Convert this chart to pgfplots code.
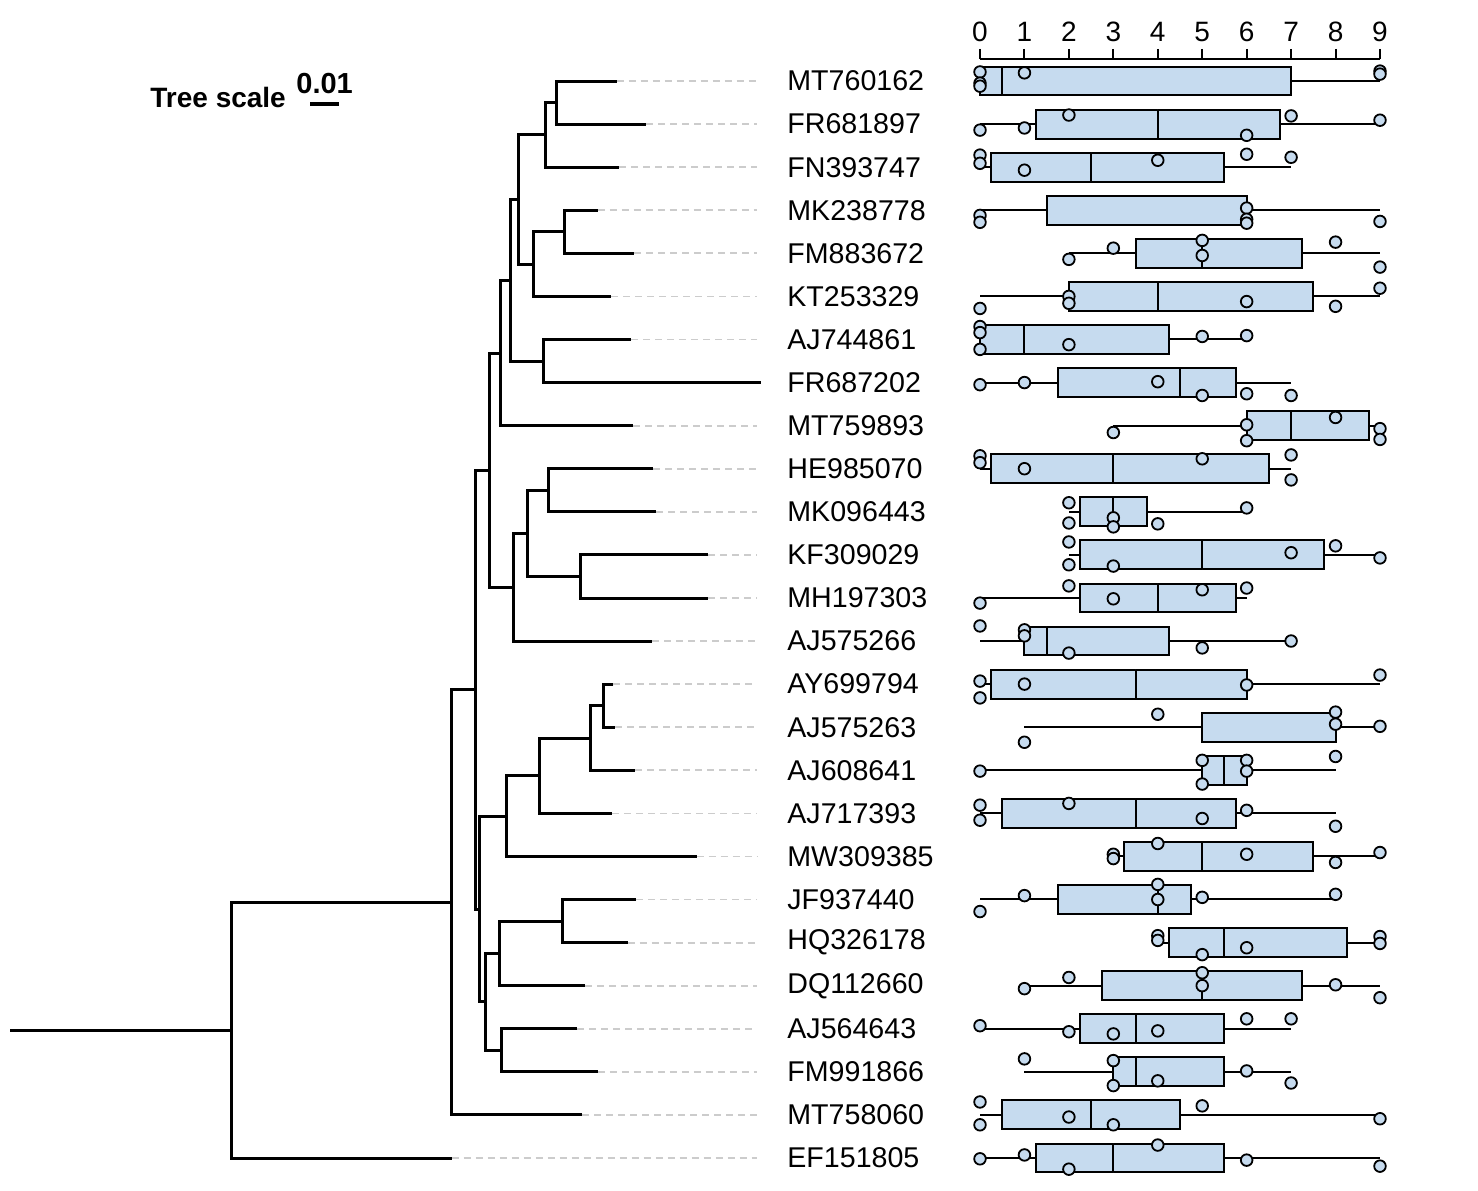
\documentclass[border=0pt]{standalone}
\usepackage{pgfplots}
\pgfplotsset{compat=1.18}
\usepgfplotslibrary{statistics}
\usepackage{fontspec}
\setmainfont{Liberation Sans}
\definecolor{boxblue}{HTML}{C6DBEF}
\definecolor{dashgray}{HTML}{CCCCCC}
\tikzset{lbl/.style={anchor=west, inner sep=0pt, font=\fontsize{14.3pt}{16pt}\selectfont}}
\pgfplotsset{bx/.style={draw=black, fill=boxblue, line width=1pt, solid}}
\begin{document}
\begin{tikzpicture}
\useasboundingbox (0,0) rectangle (739pt,595pt);
\begin{axis}[at={(0,0)}, anchor=south west, width=739pt, height=595pt, scale only axis,
  xmin=0, xmax=1478, ymin=0, ymax=1190, y dir=reverse, hide axis, clip=false, unbounded coords=jump]
% dashed leader lines
\addplot[dashgray, line width=0.9pt, dash pattern=on 3.5pt off 2.5pt] coordinates {
(616.7,81.0)(757,81.0)(nan,nan)
(646,124.1)(757,124.1)(nan,nan)
(619,167.2)(757,167.2)(nan,nan)
(597.7,210.2)(757,210.2)(nan,nan)
(634.3,253.3)(757,253.3)(nan,nan)
(611,296.4)(757,296.4)(nan,nan)
(631,339.5)(757,339.5)(nan,nan)
(633.3,425.6)(757,425.6)(nan,nan)
(653.3,468.7)(757,468.7)(nan,nan)
(656,511.8)(757,511.8)(nan,nan)
(708.3,554.9)(757,554.9)(nan,nan)
(708.3,598.0)(757,598.0)(nan,nan)
(652.3,641.0)(757,641.0)(nan,nan)
(613.3,684.1)(757,684.1)(nan,nan)
(615,727.2)(757,727.2)(nan,nan)
(635,770.3)(757,770.3)(nan,nan)
(612.3,813.4)(757,813.4)(nan,nan)
(696.7,856.4)(757,856.4)(nan,nan)
(636,899.5)(757,899.5)(nan,nan)
(627.7,942.6)(757,942.6)(nan,nan)
(585,985.7)(757,985.7)(nan,nan)
(577.3,1028.8)(757,1028.8)(nan,nan)
(597.7,1071.8)(757,1071.8)(nan,nan)
(582.3,1114.9)(757,1114.9)(nan,nan)
(451.7,1158.0)(757,1158.0)
};
% tree
\addplot[black, line width=1.5pt, line join=miter] coordinates {
(616.7,81)(556.7,81)(556.7,124.1)(646,124.1)(nan,nan)
(556.7,102.6)(545,102.6)(545,167.2)(619,167.2)(nan,nan)
(597.7,210.2)(564.3,210.2)(564.3,253.3)(634.3,253.3)(nan,nan)
(564.3,231.8)(533.3,231.8)(533.3,296.4)(611,296.4)(nan,nan)
(545,134.9)(518.3,134.9)(518.3,264.1)(533.3,264.1)(nan,nan)
(631,339.5)(543.3,339.5)(543.3,382.6)(760.7,382.6)(nan,nan)
(518.3,199.5)(510,199.5)(510,361)(543.3,361)(nan,nan)
(510,280.3)(500,280.3)(500,425.6)(633.3,425.6)(nan,nan)
(653.3,468.7)(548.3,468.7)(548.3,511.8)(656,511.8)(nan,nan)
(708.3,554.9)(580,554.9)(580,598)(708.3,598)(nan,nan)
(548.3,490.2)(527.7,490.2)(527.7,576.4)(580,576.4)(nan,nan)
(527.7,533.3)(513.3,533.3)(513.3,641)(652.3,641)(nan,nan)
(500,353)(489.3,353)(489.3,587.2)(513.3,587.2)(nan,nan)
(613.3,684.1)(603.3,684.1)(603.3,727.2)(615,727.2)(nan,nan)
(603.3,705.6)(590,705.6)(590,770.3)(635,770.3)(nan,nan)
(590,738)(539.3,738)(539.3,813.4)(612.3,813.4)(nan,nan)
(539.3,775.7)(506,775.7)(506,856.4)(696.7,856.4)(nan,nan)
(636,899.5)(562.7,899.5)(562.7,942.6)(627.7,942.6)(nan,nan)
(562.7,921)(499.3,921)(499.3,985.7)(585,985.7)(nan,nan)
(577.3,1028.8)(501.7,1028.8)(501.7,1071.8)(597.7,1071.8)(nan,nan)
(499.3,953.4)(485,953.4)(485,1050.3)(501.7,1050.3)(nan,nan)
(506,816)(479.3,816)(479.3,1001.9)(485,1001.9)(nan,nan)
(489.3,470.1)(475,470.1)(475,909)(479.3,909)(nan,nan)
(475,689.5)(451.7,689.5)(451.7,1114.9)(582.3,1114.9)(nan,nan)
(451.7,902.2)(231,902.2)(231,1158)(451.7,1158)(nan,nan)
(10,1030.1)(231,1030.1)
};
% tree scale
\addplot[black, line width=1.6pt] coordinates {(310,104)(339,104)};
\node[anchor=west, inner sep=0pt, font=\bfseries\fontsize{14pt}{16pt}\selectfont] at (axis cs:150,97) {Tree scale};
\node[anchor=west, inner sep=0pt, font=\bfseries\fontsize{14.5pt}{16pt}\selectfont] at (axis cs:296,84) {0.01};
% labels
\node[lbl] at (axis cs:787,81.0) {MT760162};
\node[lbl] at (axis cs:787,124.1) {FR681897};
\node[lbl] at (axis cs:787,167.2) {FN393747};
\node[lbl] at (axis cs:787,210.2) {MK238778};
\node[lbl] at (axis cs:787,253.3) {FM883672};
\node[lbl] at (axis cs:787,296.4) {KT253329};
\node[lbl] at (axis cs:787,339.5) {AJ744861};
\node[lbl] at (axis cs:787,382.6) {FR687202};
\node[lbl] at (axis cs:787,425.6) {MT759893};
\node[lbl] at (axis cs:787,468.7) {HE985070};
\node[lbl] at (axis cs:787,511.8) {MK096443};
\node[lbl] at (axis cs:787,554.9) {KF309029};
\node[lbl] at (axis cs:787,598.0) {MH197303};
\node[lbl] at (axis cs:787,641.0) {AJ575266};
\node[lbl] at (axis cs:787,684.1) {AY699794};
\node[lbl] at (axis cs:787,727.2) {AJ575263};
\node[lbl] at (axis cs:787,770.3) {AJ608641};
\node[lbl] at (axis cs:787,813.4) {AJ717393};
\node[lbl] at (axis cs:787,856.4) {MW309385};
\node[lbl] at (axis cs:787,899.5) {JF937440};
\node[lbl] at (axis cs:787,942.6) {HQ326178};
\node[lbl] at (axis cs:787,985.7) {DQ112660};
\node[lbl] at (axis cs:787,1028.8) {AJ564643};
\node[lbl] at (axis cs:787,1071.8) {FM991866};
\node[lbl] at (axis cs:787,1114.9) {MT758060};
\node[lbl] at (axis cs:787,1158.0) {EF151805};
\end{axis}
\begin{axis}[at={(490pt,5.25pt)}, anchor=south west, width=200pt, height=560.25pt, scale only axis,
  xmin=0, xmax=9, ymin=-25.5, ymax=0.511,
  axis x line=top, axis y line=none, x axis line style={-, line width=1pt},
  xtick={0,...,9}, ytick=\empty, xtick align=outside, major tick length=5pt,
  every tick/.style={black, line width=1pt},
  xticklabel style={font=\fontsize{14pt}{16pt}\selectfont},
  /pgf/number format/assume math mode=true, clip=false]
\addplot[bx, boxplot prepared={draw position=0, lower whisker=0, lower quartile=0, median=0.5, upper quartile=7, upper whisker=9, box extend=0.67, whisker extend=0}] coordinates {};
\addplot[bx, boxplot prepared={draw position=-1, lower whisker=0, lower quartile=1.25, median=4, upper quartile=6.75, upper whisker=9, box extend=0.67, whisker extend=0}] coordinates {};
\addplot[bx, boxplot prepared={draw position=-2, lower whisker=0, lower quartile=0.25, median=2.5, upper quartile=5.5, upper whisker=7, box extend=0.67, whisker extend=0}] coordinates {};
\addplot[bx, boxplot prepared={draw position=-3, lower whisker=0, lower quartile=1.5, median=6, upper quartile=6, upper whisker=9, box extend=0.67, whisker extend=0}] coordinates {};
\addplot[bx, boxplot prepared={draw position=-4, lower whisker=2, lower quartile=3.5, median=5, upper quartile=7.25, upper whisker=9, box extend=0.67, whisker extend=0}] coordinates {};
\addplot[bx, boxplot prepared={draw position=-5, lower whisker=0, lower quartile=2, median=4, upper quartile=7.5, upper whisker=9, box extend=0.67, whisker extend=0}] coordinates {};
\addplot[bx, boxplot prepared={draw position=-6, lower whisker=0, lower quartile=0, median=1, upper quartile=4.25, upper whisker=6, box extend=0.67, whisker extend=0}] coordinates {};
\addplot[bx, boxplot prepared={draw position=-7, lower whisker=0, lower quartile=1.75, median=4.5, upper quartile=5.75, upper whisker=7, box extend=0.67, whisker extend=0}] coordinates {};
\addplot[bx, boxplot prepared={draw position=-8, lower whisker=3, lower quartile=6, median=7, upper quartile=8.75, upper whisker=9, box extend=0.67, whisker extend=0}] coordinates {};
\addplot[bx, boxplot prepared={draw position=-9, lower whisker=0, lower quartile=0.25, median=3, upper quartile=6.5, upper whisker=7, box extend=0.67, whisker extend=0}] coordinates {};
\addplot[bx, boxplot prepared={draw position=-10, lower whisker=2, lower quartile=2.25, median=3, upper quartile=3.75, upper whisker=6, box extend=0.67, whisker extend=0}] coordinates {};
\addplot[bx, boxplot prepared={draw position=-11, lower whisker=2, lower quartile=2.25, median=5, upper quartile=7.75, upper whisker=9, box extend=0.67, whisker extend=0}] coordinates {};
\addplot[bx, boxplot prepared={draw position=-12, lower whisker=0, lower quartile=2.25, median=4, upper quartile=5.75, upper whisker=6, box extend=0.67, whisker extend=0}] coordinates {};
\addplot[bx, boxplot prepared={draw position=-13, lower whisker=0, lower quartile=1, median=1.5, upper quartile=4.25, upper whisker=7, box extend=0.67, whisker extend=0}] coordinates {};
\addplot[bx, boxplot prepared={draw position=-14, lower whisker=0, lower quartile=0.25, median=3.5, upper quartile=6, upper whisker=9, box extend=0.67, whisker extend=0}] coordinates {};
\addplot[bx, boxplot prepared={draw position=-15, lower whisker=1, lower quartile=5, median=8, upper quartile=8, upper whisker=9, box extend=0.67, whisker extend=0}] coordinates {};
\addplot[bx, boxplot prepared={draw position=-16, lower whisker=0, lower quartile=5, median=5.5, upper quartile=6, upper whisker=8, box extend=0.67, whisker extend=0}] coordinates {};
\addplot[bx, boxplot prepared={draw position=-17, lower whisker=0, lower quartile=0.5, median=3.5, upper quartile=5.75, upper whisker=8, box extend=0.67, whisker extend=0}] coordinates {};
\addplot[bx, boxplot prepared={draw position=-18, lower whisker=3, lower quartile=3.25, median=5, upper quartile=7.5, upper whisker=9, box extend=0.67, whisker extend=0}] coordinates {};
\addplot[bx, boxplot prepared={draw position=-19, lower whisker=0, lower quartile=1.75, median=4, upper quartile=4.75, upper whisker=8, box extend=0.67, whisker extend=0}] coordinates {};
\addplot[bx, boxplot prepared={draw position=-20, lower whisker=4, lower quartile=4.25, median=5.5, upper quartile=8.25, upper whisker=9, box extend=0.67, whisker extend=0}] coordinates {};
\addplot[bx, boxplot prepared={draw position=-21, lower whisker=1, lower quartile=2.75, median=5, upper quartile=7.25, upper whisker=9, box extend=0.67, whisker extend=0}] coordinates {};
\addplot[bx, boxplot prepared={draw position=-22, lower whisker=0, lower quartile=2.25, median=3.5, upper quartile=5.5, upper whisker=7, box extend=0.67, whisker extend=0}] coordinates {};
\addplot[bx, boxplot prepared={draw position=-23, lower whisker=1, lower quartile=3, median=3.5, upper quartile=5.5, upper whisker=7, box extend=0.67, whisker extend=0}] coordinates {};
\addplot[bx, boxplot prepared={draw position=-24, lower whisker=0, lower quartile=0.5, median=2.5, upper quartile=4.5, upper whisker=9, box extend=0.67, whisker extend=0}] coordinates {};
\addplot[bx, boxplot prepared={draw position=-25, lower whisker=0, lower quartile=1.25, median=3, upper quartile=5.5, upper whisker=9, box extend=0.67, whisker extend=0}] coordinates {};
% points
\addplot[only marks, mark=*, mark size=2.9pt, mark options={fill=boxblue, draw=black, line width=0.9pt, solid}] coordinates {
(0,0.21)(0,-0.05)(0,-0.12)(1,0.19)(9,0.23)(9,0.16)
(0,-1.14)(1,-1.09)(2,-0.79)(6,-1.26)(7,-0.81)(9,-0.91)
(0,-1.72)(0,-1.91)(1,-2.07)(4,-1.84)(6,-1.70)(7,-1.77)
(0,-3.12)(0,-3.28)(6,-2.95)(6,-3.21)(6,-3.30)(9,-3.26)
(2,-4.14)(3,-3.88)(5,-3.70)(5,-4.05)(8,-3.74)(9,-4.32)
(0,-5.28)(2,-5.00)(2,-5.16)(6,-5.12)(8,-5.23)(9,-4.81)
(0,-5.70)(0,-5.84)(0,-6.23)(2,-6.12)(5,-5.93)(6,-5.91)
(0,-7.05)(1,-7.00)(4,-6.98)(5,-7.30)(6,-7.26)(7,-7.30)
(3,-8.16)(6,-7.98)(6,-8.35)(8,-7.81)(9,-8.07)(9,-8.32)
(0,-8.70)(0,-8.86)(1,-9.00)(5,-8.77)(7,-8.68)(7,-9.26)
(2,-9.79)(2,-10.26)(3,-10.14)(3,-10.35)(4,-10.28)(6,-9.91)
(2,-10.70)(2,-11.23)(3,-11.26)(7,-10.95)(8,-10.79)(9,-11.07)
(0,-12.12)(2,-11.72)(3,-12.02)(5,-11.81)(6,-11.77)
(0,-12.65)(1,-12.74)(1,-12.88)(2,-13.28)(5,-13.16)(7,-13.00)
(0,-13.93)(0,-14.32)(1,-14.00)(6,-14.02)(9,-13.79)
(1,-15.35)(4,-14.70)(8,-14.65)(8,-14.93)(9,-14.98)
(0,-16.02)(5,-15.77)(5,-16.32)(6,-15.77)(6,-16.02)(8,-15.68)
(0,-16.81)(0,-17.16)(2,-16.77)(5,-17.12)(6,-16.93)(8,-17.30)
(3,-17.95)(3,-18.05)(4,-17.70)(6,-17.95)(8,-18.14)(9,-17.91)
(0,-19.28)(1,-18.91)(4,-18.65)(4,-19.00)(5,-18.95)(8,-18.88)
(4,-19.84)(4,-19.95)(5,-20.28)(6,-20.12)(9,-19.86)(9,-20.02)
(1,-21.07)(2,-20.81)(5,-20.70)(5,-21.00)(8,-20.98)(9,-21.28)
(0,-21.93)(2,-22.07)(3,-22.12)(4,-22.05)(6,-21.77)(7,-21.77)
(1,-22.70)(3,-22.74)(3,-23.32)(4,-23.21)(6,-22.98)(7,-23.26)
(0,-23.70)(0,-24.23)(2,-24.05)(3,-24.23)(5,-23.79)(9,-24.09)
(0,-25.02)(1,-24.93)(2,-25.26)(4,-24.70)(6,-25.05)(9,-25.19)
};
\end{axis}
\end{tikzpicture}
\end{document}
